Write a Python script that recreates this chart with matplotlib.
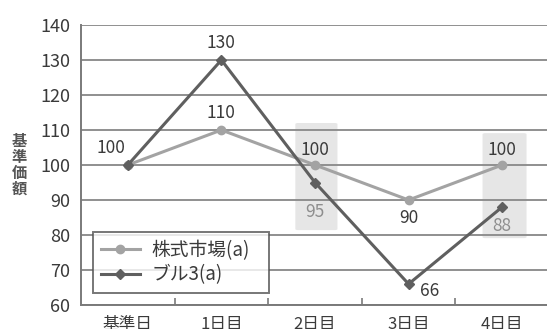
import matplotlib
matplotlib.use("Agg")
import matplotlib.pyplot as plt
from matplotlib.patches import FancyBboxPatch

plt.rcParams['font.family'] = ['Noto Sans CJK JP', 'DejaVu Sans']

categories = ["基準日", "1日目", "2日目", "3日目", "4日目"]
market = [100, 110, 100, 90, 100]
bull3 = [100, 130, 95, 66, 88]
yticks = [60, 70, 80, 90, 100, 110, 120, 130, 140]

market_color = "#a3a3a3"
bull_color = "#5f5f5f"
text_color = "#3a3a3a"

fig = plt.figure(figsize=(5.47, 3.29), dpi=100)
ax = fig.add_axes([81 / 547, 1 - 305 / 329, 468 / 547, 280 / 329])
x = list(range(len(categories)))

# highlighted days
for (x0, x1, y0, y1) in [(1.79, 2.24, 81.4, 112.0), (3.79, 4.26, 79.1, 109.1)]:
    ax.add_patch(FancyBboxPatch((x0, y0), x1 - x0, y1 - y0,
                                boxstyle="round,pad=0,rounding_size=0.03",
                                facecolor="#e6e6e6", edgecolor="none", zorder=0.5,
                                mutation_aspect=10))

ax.set_xlim(-0.5, 4.5)
ax.set_ylim(60, 140)
ax.set_yticks(yticks)
ax.yaxis.grid(True, color="#8f8f8f", linewidth=1.4)
ax.set_axisbelow(True)
for side in ["top", "right"]:
    ax.spines[side].set_visible(False)
for side in ["left", "bottom"]:
    ax.spines[side].set_color("#7a7a7a")
    ax.spines[side].set_linewidth(1.4)

ax.plot(x, market, color=market_color, lw=2.2, marker="o", ms=6, zorder=3,
        label="株式市場(a)")
ax.plot(x, bull3, color=bull_color, lw=2.2, marker="D", ms=5, zorder=4,
        label="ブル3(a)")

ax.set_xticks(x)
ax.set_xticklabels(categories)
ax.set_xticks([0.5, 1.5, 2.5, 3.5], minor=True)
ax.tick_params(axis="x", which="major", length=0, pad=8, labelsize=12,
               labelcolor=text_color)
ax.tick_params(axis="x", which="minor", direction="in", length=5, width=1.2,
               color="#7a7a7a")
ax.tick_params(axis="y", length=0, pad=8, labelsize=13, labelcolor=text_color)

def label(xi, yi, txt, dx, dy, color=text_color):
    ax.annotate(txt, (xi, yi), xytext=(dx, dy), textcoords="offset points",
                ha="center", va="center", fontsize=12.5, color=color, zorder=5)

label(0, market[0], str(market[0]), -12, 12)
label(1, bull3[1], str(bull3[1]), 0, 12)
label(1, market[1], str(market[1]), 0, 12)
label(2, market[2], str(market[2]), 0, 11)
label(2, bull3[2], str(bull3[2]), 0, -21, "#8e8e8e")
label(3, market[3], str(market[3]), 0, -13)
label(3, bull3[3], str(bull3[3]), 15, -5)
label(4, market[4], str(market[4]), 0, 11)
label(4, bull3[4], str(bull3[4]), 0, -14, "#8e8e8e")

leg = ax.legend(loc="lower left",
                bbox_to_anchor=(93 / 547, 1 - 293 / 329, 176 / 547, 61 / 329),
                bbox_transform=fig.transFigure, mode="expand", borderaxespad=0,
                fancybox=False, fontsize=13.5, handlelength=2.1,
                labelspacing=0.2, borderpad=0.4, handletextpad=0.6)
leg.get_frame().set_edgecolor("#555555")
leg.get_frame().set_linewidth(1.4)
for t in leg.get_texts():
    t.set_color(text_color)

fig.text(19 / 547, 1 - 165 / 329, "\n".join("基準価額"), ha="center", va="center",
         fontsize=11, fontweight="bold", color="#555555", linespacing=1.0)

fig.savefig("out.png", dpi=100)
